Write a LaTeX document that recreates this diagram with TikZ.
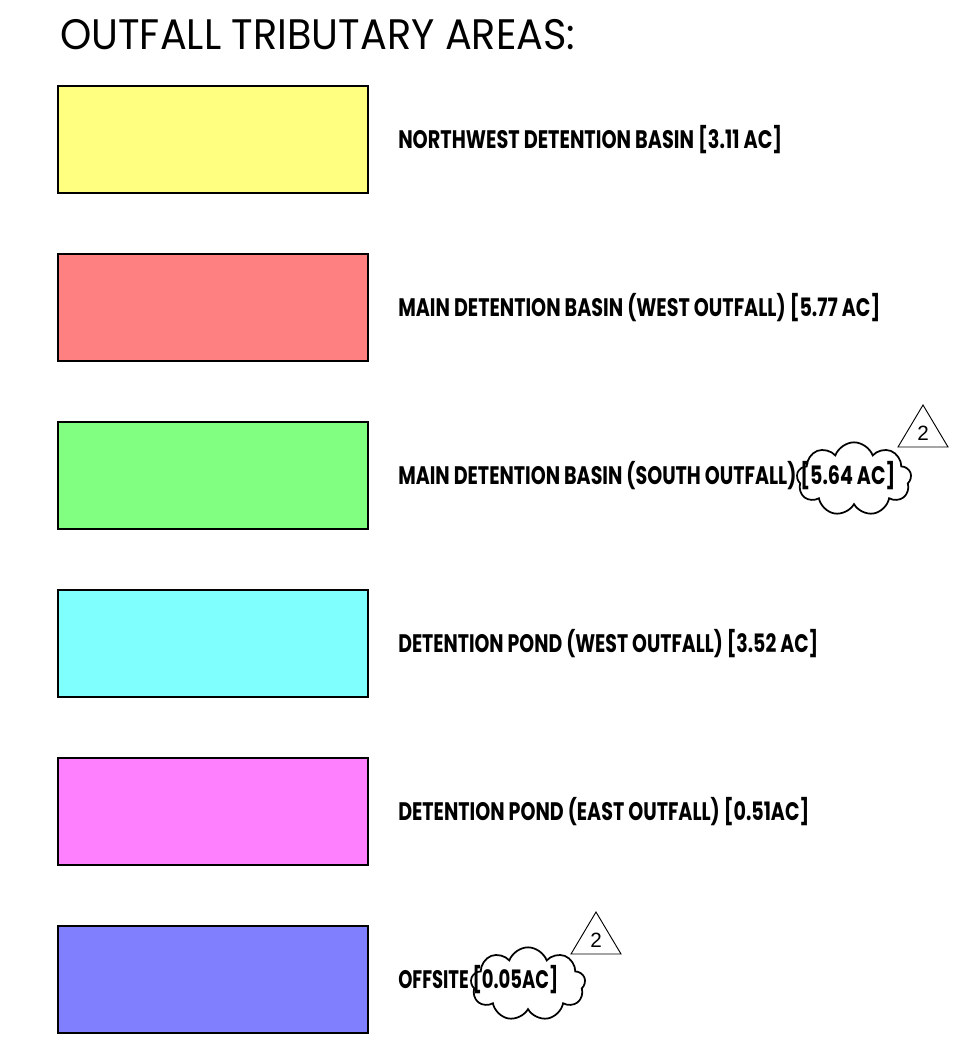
\documentclass[tikz,border=0pt]{standalone}
\usepackage{fontspec}
\usepackage{graphicx}
\usetikzlibrary{shapes.symbols}
\newfontfamily\titlefont{Poppins}
\newfontfamily\labfont{Poppins}[BoldFont={* Bold}]
\newfontfamily\numfont{Liberation Sans}
\newlength\px \setlength\px{0.75pt}
\newcommand\fitw[2]{\resizebox{#1\px}{\height}{#2}}
\definecolor{cyel}{HTML}{FFFF80}
\definecolor{cred}{HTML}{FF8080}
\definecolor{cgrn}{HTML}{80FF80}
\definecolor{ccya}{HTML}{80FFFF}
\definecolor{cmag}{HTML}{FF80FF}
\definecolor{cblu}{HTML}{8080FF}
\tikzset{
  legbox/.style={draw=black, line width=1.1pt, minimum width=232.5pt, minimum height=80.25pt, inner sep=0pt},
  legtext/.style={anchor=base west, inner sep=0pt, font=\labfont\fontsize{19}{19}\selectfont\bfseries},
  revcloud/.style={cloud, cloud puffs=9, cloud puff arc=140, draw=black, line width=1.3pt, minimum width=86pt, minimum height=55pt, inner sep=0pt, aspect=1.5},
  revtri/.style={draw=black, line width=0.7pt},
  revnum/.style={inner sep=0pt, font=\numfont\fontsize{15.5}{15.5}\selectfont}
}
\begin{document}
\begin{tikzpicture}[x=0.75pt,y=-0.75pt]
\useasboundingbox (0,0) rectangle (955,1056);
\node[anchor=base west, inner sep=0pt, font=\titlefont\fontsize{32}{32}\selectfont] (title) at (60,50) {\fitw{515}{OUTFALL TRIBUTARY AREAS:}};

\node[legbox, fill=cyel] (b1) at (213,139.5) {};
\node[legbox, fill=cred] (b2) at (213,307.5) {};
\node[legbox, fill=cgrn] (b3) at (213,475.5) {};
\node[legbox, fill=ccya] (b4) at (213,643.5) {};
\node[legbox, fill=cmag] (b5) at (213,811.5) {};
\node[legbox, fill=cblu] (b6) at (213,979.5) {};

\node[legtext] (t1) at (398,148) {\fitw{384}{NORTHWEST DETENTION BASIN [3.11 AC]}};
\node[legtext] (t2) at (398,316) {\fitw{482}{MAIN DETENTION BASIN (WEST OUTFALL) [5.77 AC]}};
\node[legtext] (t3) at (398,484) {\fitw{497}{MAIN DETENTION BASIN (SOUTH OUTFALL) [5.64 AC]}};
\node[legtext] (t4) at (398,652) {\fitw{420}{DETENTION POND (WEST OUTFALL) [3.52 AC]}};
\node[legtext] (t5) at (398,820) {\fitw{411}{DETENTION POND (EAST OUTFALL) [0.51AC]}};
\node[legtext] (t6) at (398,988) {\fitw{160}{OFFSITE [0.05AC]}};

\node[revcloud] (c1) at (854,479) {};
\node[revcloud] (c2) at (528,984) {};

\coordinate (ta1) at (923,405);
\coordinate (tl1) at (898,447);
\coordinate (tr1) at (948,447);
\draw[revtri] (ta1) -- (tl1) -- (tr1) -- cycle;
\node[revnum] (n1) at (923,433) {2};

\coordinate (ta2) at (596,912);
\coordinate (tl2) at (571,954);
\coordinate (tr2) at (621,954);
\draw[revtri] (ta2) -- (tl2) -- (tr2) -- cycle;
\node[revnum] (n2) at (596,940) {2};
\end{tikzpicture}
\end{document}
